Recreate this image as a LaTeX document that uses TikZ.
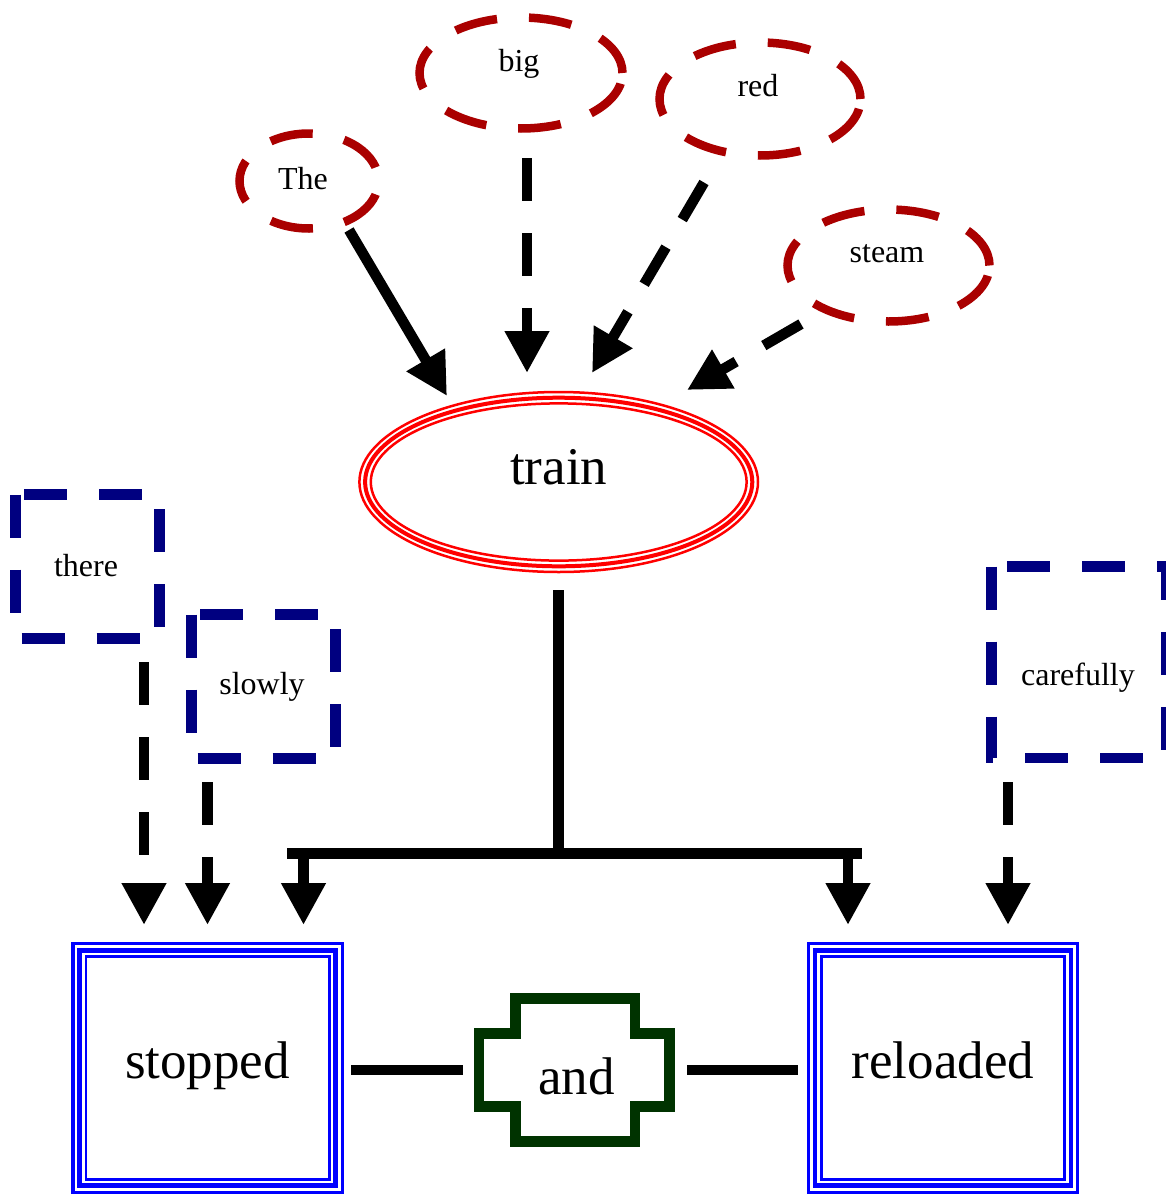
\documentclass[tikz,border=0pt]{standalone}
\usepackage{fontspec}
\setmainfont{Liberation Serif}
\usetikzlibrary{arrows.meta,shapes.geometric}
\definecolor{dred}{HTML}{AA0000}
\definecolor{dnavy}{HTML}{000080}
\definecolor{bblue}{HTML}{0000FF}
\definecolor{rred}{HTML}{FF0000}
\definecolor{dgreen}{HTML}{003300}
\begin{document}
\begin{tikzpicture}[x=1pt,y=-1pt,
  small/.style={font=\fontsize{32}{38}\selectfont, inner sep=0pt},
  large/.style={font=\fontsize{53}{60}\selectfont, inner sep=0pt},
  dashell/.style={ellipse, draw=dred, line width=8.5pt, dash pattern=on 43pt off 32pt, outer sep=0pt, inner sep=0pt},
  boxnode/.style={rectangle, draw=none, outer sep=0pt, inner sep=0pt, minimum width=144pt, minimum height=144pt},
  dashbox/.style={draw=dnavy, line width=10.7pt, dash pattern=on 43pt off 32pt},
  tribox/.style={rectangle, draw=bblue, line width=3.3pt, minimum width=269.3pt, minimum height=248.8pt, outer sep=0pt, inner sep=0pt},
  edge/.style={line width=10.5pt, draw=black},
  dedge/.style={edge, dash pattern=on 43pt off 32pt},
  tip/.style={-{Triangle[length=42pt,width=42pt]}},
]
\useasboundingbox (0,0) rectangle (1165,1194);

% dashed ellipses
\node[dashell, minimum width=139pt, minimum height=95pt, dash phase=61pt] (the) at (309,181) {};
\node[dashell, minimum width=203pt, minimum height=111pt] (big) at (521,73) {};
\node[dashell, minimum width=201pt, minimum height=113pt] (red) at (760,99) {};
\node[dashell, minimum width=202pt, minimum height=112pt] (steam) at (888.5,265.5) {};
\node[small] (theL) at (303,179) {The};
\node[small] (bigL) at (519,64) {big};
\node[small] (redL) at (758,85.5) {red};
\node[small] (steamL) at (887,254) {steam};

% train
\node[ellipse, draw=rred, line width=2.5pt, minimum width=398.6pt, minimum height=180pt, outer sep=0pt] (train) at (558.7,482) {};
\draw[rred, line width=4pt] (train.center) ellipse [x radius=193.6pt, y radius=84.3pt];
\draw[rred, line width=2.5pt] (train.center) ellipse [x radius=187.9pt, y radius=78.6pt];
\node[large] (trainL) at (558.7,467) {train};

% dashed boxes
\node[boxnode] (there) at (87.5,566.5) {};
\draw[dashbox] (there.north west) -- (there.south west) -- (there.south east) -- (there.north east) -- cycle;
\node[small] (thereL) at (86,565.5) {there};
\node[boxnode] (slowly) at (263.5,686.5) {};
\draw[dashbox] (slowly.north west) -- (slowly.south west) -- (slowly.south east) -- (slowly.north east) -- cycle;
\node[small] (slowlyL) at (262,687) {slowly};
\node[boxnode, minimum width=175pt, minimum height=191.5pt] (careful) at (1079,662.25) {};
\draw[dashbox] (careful.north west) -- (careful.south west) -- (careful.south east) -- (careful.north east) -- cycle;
\node[small] (carefulL) at (1078,677.5) {carefully};

% triple boxes
\node[tribox] (stopped) at (207.7,1068.1) {};
\draw[bblue, line width=4.7pt] ([shift={(6.7pt,-6.7pt)}]stopped.north west) rectangle ([shift={(-6.7pt,6.7pt)}]stopped.south east);
\draw[bblue, line width=2.7pt] ([shift={(13pt,-13pt)}]stopped.north west) rectangle ([shift={(-13pt,13pt)}]stopped.south east);
\node[large] (stoppedL) at (207.5,1066) {stopped};
\node[tribox] (reloaded) at (943,1068.1) {};
\draw[bblue, line width=4.7pt] ([shift={(6.7pt,-6.7pt)}]reloaded.north west) rectangle ([shift={(-6.7pt,6.7pt)}]reloaded.south east);
\draw[bblue, line width=2.7pt] ([shift={(13pt,-13pt)}]reloaded.north west) rectangle ([shift={(-13pt,13pt)}]reloaded.south east);
\node[large] (reloadedL) at (943,1060.5) {reloaded};

% and
\draw[dgreen, line width=10.5pt] (515.3,998.5) -- (635,998.5) -- (635,1033.5) -- (669.5,1033.5) -- (669.5,1106.5) -- (635,1106.5) -- (635,1141.5) -- (515.3,1141.5) -- (515.3,1106.5) -- (479,1106.5) -- (479,1033.5) -- (515.3,1033.5) -- cycle;
\node[large] (and) at (576.5,1076) {and};

% connector end points
\coordinate (s1) at (349,230);   \coordinate (t1) at (447,396);
\coordinate (s2) at (527,158);   \coordinate (t2) at (527,373);
\coordinate (s3) at (704,182.5); \coordinate (t3) at (592,373);
\coordinate (s4) at (801,324);   \coordinate (t4) at (687,390);
\coordinate (trunk) at (558.5,590); \coordinate (j) at (558.5,853.5);
\coordinate (barL) at (287,853.5); \coordinate (barR) at (862,853.5);
\coordinate (dL) at (303.5,853.5); \coordinate (tL) at (303.5,925);
\coordinate (dR) at (848,853.5);   \coordinate (tR) at (848,925);
\coordinate (s6) at (144,662);   \coordinate (t6) at (144,925);
\coordinate (s7) at (207.5,782); \coordinate (t7) at (207.5,925);
\coordinate (s8) at (1008,782);  \coordinate (t8) at (1008,925);
\coordinate (s9) at (351,1070);  \coordinate (t9) at (463,1070);
\coordinate (s10) at (687,1070); \coordinate (t10) at (798,1070);

\draw[edge, tip] (s1) -- (t1);
\draw[dedge, tip] (s2) -- (t2);
\draw[dedge, tip] (s3) -- (t3);
\draw[dedge, tip] (s4) -- (t4);
\draw[edge] (trunk) -- (j);
\draw[edge] (barL) -- (barR);
\draw[edge, tip] (dL) -- (tL);
\draw[edge, tip] (dR) -- (tR);
\draw[dedge, tip] (s6) -- (t6);
\draw[dedge, tip] (s7) -- (t7);
\draw[dedge, tip] (s8) -- (t8);
\draw[edge] (s9) -- (t9);
\draw[edge] (s10) -- (t10);
\end{tikzpicture}
\end{document}
